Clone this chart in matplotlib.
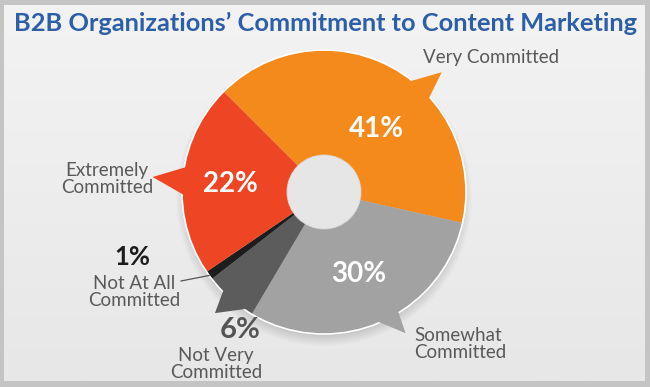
"""B2B organizations' commitment to content marketing - donut chart."""

import matplotlib.pyplot as plt
import numpy as np
from matplotlib.patches import Circle, Polygon

categories = ["Very Committed", "Somewhat\nCommitted", "Not Very\nCommitted",
              "Not At All\nCommitted", "Extremely\nCommitted"]
values = [41, 30, 6, 1, 22]
pct_labels = [f"{v}%" for v in values]
colors = ["#f48a1b", "#a2a2a2", "#5c5c5c", "#1d1d1d", "#ee4524"]

W, H = 650, 387
CX, CY = 324, H - 192
R, R_HOLE = 142, 37
FONT = "Lato"

fig = plt.figure(figsize=(W / 100, H / 100), dpi=100, facecolor="#c4c4c4")
ax = fig.add_axes([0, 0, 1, 1])
ax.set_xlim(0, W)
ax.set_ylim(0, H)
ax.axis("off")

# panel with a soft vertical gradient
grad = np.linspace(0, 1, 256).reshape(-1, 1)
ax.imshow(grad, extent=(4, W - 5, 6, H - 5), cmap=plt.cm.colors.LinearSegmentedColormap.from_list(
    "bg", ["#e7e7e7", "#f3f3f3"]), origin="lower", aspect="auto", zorder=0)

ax.text(W / 2 + 1, H - 23, "B2B Organizations\u2019 Commitment to Content Marketing",
        ha="center", va="center", fontsize=18.3, fontweight="bold", color="#2d5ea8",
        family=FONT, zorder=5)

# soft shadow below the donut
for i in range(12):
    ax.add_patch(Circle((CX, CY - 6), R + 6 - i, color="#000000", alpha=0.012, lw=0, zorder=1))

wedges, _ = ax.pie(values, colors=colors, startangle=135, counterclock=False,
                   center=(CX, CY), radius=R, wedgeprops=dict(linewidth=0))
for w in wedges:
    w.set_zorder(3)
ax.set_xlim(0, W)
ax.set_ylim(0, H)
ax.set_aspect("equal")

ax.add_patch(Circle((CX, CY), R, fill=False, ec="white", lw=1.2, zorder=3.5))

# pointer triangles: base centre angle, half width, tip angle, tip radius
pointers = [(47, 5.5, 45.5, 168), (-63, 5, -60, 163), (-129.5, 6.5, -132, 163),
            None, (175.5, 6, 175, 172)]
for w, p, c in zip(wedges, pointers, colors):
    if p is None:
        continue
    base, half, tip, tr = p
    a1, a2, at = np.radians([base - half, base + half, tip])
    pts = [(CX + (R - 3) * np.cos(a1), CY + (R - 3) * np.sin(a1)),
           (CX + tr * np.cos(at), CY + tr * np.sin(at)),
           (CX + (R - 3) * np.cos(a2), CY + (R - 3) * np.sin(a2))]
    ax.add_patch(Polygon(pts, closed=True, fc=c, ec="none", zorder=4))

ax.add_patch(Circle((CX, CY), R_HOLE, fc="#e6e6e6", ec="#d8d8d8", lw=0.6, zorder=5))

# percentages inside the big slices
inside = [(376, H - 129), (359, H - 274), None, None, (230, H - 184)]
for pos, txt in zip(inside, pct_labels):
    if pos is None:
        continue
    ax.text(*pos, txt, ha="center", va="center", fontsize=20, fontweight="bold",
            color="white", family=FONT, zorder=6)

# outside labels
label_pos = [(491, H - 57, "center"), (414, H - 344, "left"), (216, H - 364, "center"),
             (134, H - 292, "center"), (107, H - 179, "center")]
for (x, y, ha), txt in zip(label_pos, categories):
    ax.text(x, y, txt, ha=ha, va="center", fontsize=13.5, color="#595959",
            family=FONT, linespacing=1.02, zorder=6)

ax.text(240, H - 330, pct_labels[2], ha="center", va="center", fontsize=21,
        fontweight="bold", color="#555555", family=FONT, zorder=6)
ax.text(132, H - 257, pct_labels[3], ha="center", va="center", fontsize=18.5,
        fontweight="bold", color="#1d1d1d", family=FONT, zorder=6)

# leader line for the thin slice
mid = np.radians((wedges[3].theta1 + wedges[3].theta2) / 2)
ax.plot([181, CX + R * np.cos(mid)], [H - 281, CY + R * np.sin(mid)],
        color="#555555", lw=0.9, zorder=6)

fig.savefig("out.png", dpi=100, facecolor=fig.get_facecolor())
